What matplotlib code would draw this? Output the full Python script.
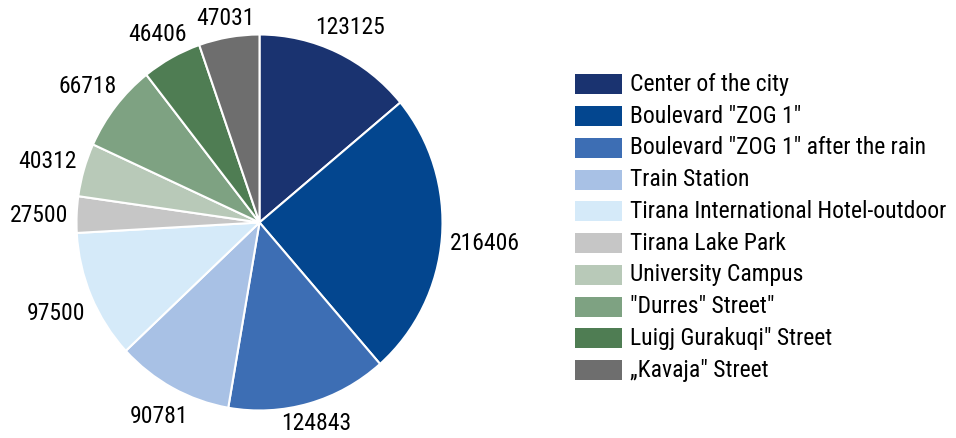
import matplotlib
matplotlib.use("Agg")
import numpy as np
import matplotlib.pyplot as plt
from matplotlib import font_manager
from matplotlib.patches import Rectangle

# 측정 지점과 값
locations = [
    "Center of the city",
    'Boulevard "ZOG 1"',
    'Boulevard "ZOG 1" after the rain',
    "Train Station",
    "Tirana International Hotel-outdoor",
    "Tirana Lake Park",
    "University Campus",
    '"Durres" Street"',
    'Luigj Gurakuqi" Street',
    "\u201eKavaja\" Street",
]
values = [123125, 216406, 124843, 90781, 97500, 27500, 40312, 66718, 46406, 47031]
colors = ["#1a3370", "#03468f", "#3d6eb4", "#a8c1e5", "#d5eaf9",
          "#c6c6c6", "#b8c9b8", "#7ea282", "#4f7d53", "#6e6e6e"]

# 좁은 글꼴이 있으면 사용
installed = {f.name for f in font_manager.fontManager.ttflist}
family = "Roboto"
for name in ["Roboto Condensed", "Liberation Sans Narrow"]:
    if name in installed:
        family = name
        break
plt.rcParams["font.family"] = [family, "DejaVu Sans"]

W, H = 956, 438
FS = 17
fig = plt.figure(figsize=(W / 100, H / 100), dpi=100)

# 파이 차트: 중심 (259.5, 222.5) px, 가로 반지름 183 px, 세로 188 px
cx, cy, rx, ry = 259.5, 222.5, 183, 188
lim_x, lim_y = 1.2, 1.15
ax = fig.add_axes([(cx - lim_x * rx) / W, (H - cy - lim_y * ry) / H,
                   2 * lim_x * rx / W, 2 * lim_y * ry / H])
wedges, _ = ax.pie(values, colors=colors, startangle=90, counterclock=False,
                   wedgeprops=dict(edgecolor="white", linewidth=1.5))
ax.set_xlim(-lim_x, lim_x)
ax.set_ylim(-lim_y, lim_y)
ax.set_aspect("auto")
ax.axis("off")

# 값 레이블: 글상자의 가까운 면이 원에서 일정 간격 떨어지도록
renderer = fig.canvas.get_renderer()
gap, digit_h = 8, 17
for w, v in zip(wedges, values):
    ang = np.deg2rad((w.theta1 + w.theta2) / 2)
    dx, dy = np.cos(ang), np.sin(ang)
    t = ax.text(0, 0, str(v), fontsize=FS, ha="center", va="center_baseline")
    bb = t.get_window_extent(renderer)
    dist = gap + abs(dx) * bb.width / 2 + abs(dy) * digit_h / 2
    # 그림 밖으로 나가지 않도록 위아래 위치 제한 (픽셀, 중심 기준)
    py = dy * (ry + dist)
    py = np.clip(py, -(cy - 4 - digit_h / 2) * 1.0, cy - 6 - digit_h / 2)
    py = max(py, -(H - cy - 8 - digit_h / 2))
    t.set_position((dx * (1 + dist / rx), py / ry))

# 범례
lx = 575 / W
for i, (name, c) in enumerate(zip(locations, colors)):
    yc = 84.3 + i * 31.75
    y = 1 - yc / H
    fig.patches.append(Rectangle((lx, y - 10 / H), 47 / W, 20 / H, transform=fig.transFigure,
                                 facecolor=c, edgecolor="none"))
    fig.text(630 / W, y, name, fontsize=FS, va="center", ha="left")

fig.savefig("out.png", dpi=100)
